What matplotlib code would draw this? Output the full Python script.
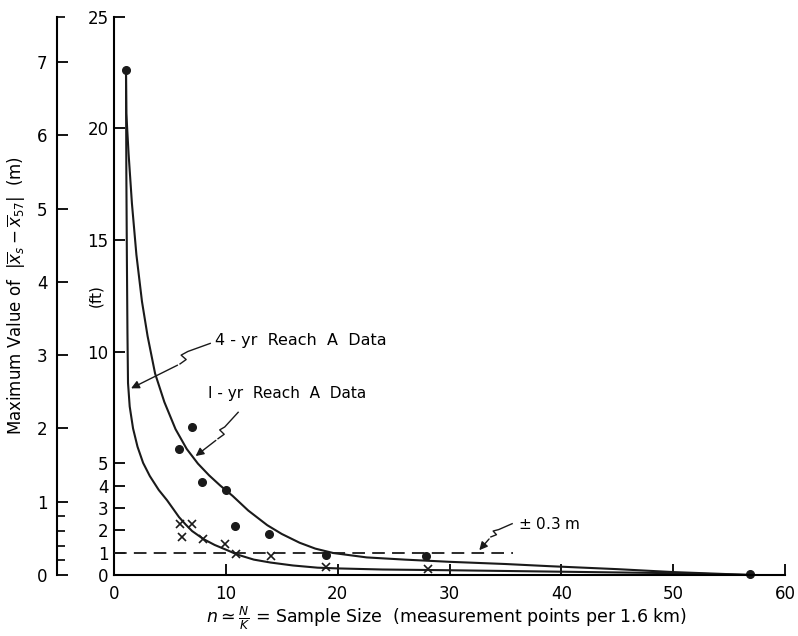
import numpy as np
import matplotlib.pyplot as plt
from matplotlib.ticker import FixedLocator

FT = 0.3048  # metres per foot

# 1-yr Reach A data (dots) and 4-yr Reach A data (crosses), values in metres
dots_n = [1.07, 5.84, 6.95, 7.87, 10.0, 10.8, 13.9, 18.96, 27.9, 56.9]
dots_m = [6.89, 1.72, 2.02, 1.27, 1.16, 0.67, 0.56, 0.27, 0.26, 0.02]

cross_n = [5.9, 6.06, 7.0, 8.0, 9.95, 10.9, 14.0, 18.96, 28.1]
cross_m = [0.69, 0.52, 0.69, 0.49, 0.42, 0.29, 0.26, 0.11, 0.08]

# hand-fitted curves
curve4_n = [1.07, 1.1, 1.15, 1.2, 1.25, 1.4, 1.7, 2.1, 2.6, 3.2, 4.0, 4.74, 5.3,
            5.81, 6.4, 6.98, 8.0, 9.0, 10.1, 11.0, 12.5, 14, 16, 18.2, 20, 24,
            30, 40, 50, 57]
curve4_m = [6.89, 5.5, 4.3, 3.3, 2.62, 2.3, 2.0, 1.75, 1.53, 1.35, 1.16, 1.02, 0.9,
            0.79, 0.69, 0.60, 0.49, 0.41, 0.34, 0.28, 0.21, 0.17, 0.13, 0.10, 0.09,
            0.075, 0.065, 0.045, 0.025, 0.0]

curve1_n = [1.07, 1.1, 1.3, 1.6, 2.0, 2.5, 3.0, 3.67, 4.5, 5.5, 6.5, 7.5, 8.5, 9.5,
            10.6, 12.0, 13.7, 15.0, 16.6, 18.0, 19.6, 22.6, 26, 30, 35, 39, 45,
            50, 57]
curve1_m = [6.89, 6.3, 5.75, 5.07, 4.37, 3.73, 3.26, 2.75, 2.36, 1.99, 1.72, 1.52,
            1.36, 1.22, 1.08, 0.88, 0.68, 0.56, 0.44, 0.36, 0.30, 0.24, 0.21, 0.18,
            0.15, 0.12, 0.08, 0.04, 0.0]

tol_m = 0.3
tol_end = 35.7

m_ticks = [0, 1, 2, 3, 4, 5, 6, 7]
m_minor = [0.2, 0.4, 0.6, 0.8, 25 * FT]
ft_ticks = [0, 1, 2, 3, 4, 5, 10, 15, 20, 25]
x_ticks = [0, 10, 20, 30, 40, 50, 60]

plt.rcParams['font.family'] = 'DejaVu Sans'

fig = plt.figure(figsize=(7.98, 6.36), dpi=100)
ax = fig.add_axes([0.1429, 0.0959, 0.8408, 0.8781])

k = '#1a1a1a'
ax.plot(curve4_n, curve4_m, color=k, lw=1.5)
ax.plot(curve1_n, curve1_m, color=k, lw=1.5)
ax.plot(dots_n, dots_m, 'o', color=k, ms=5.5, clip_on=False)
ax.plot(cross_n, cross_m, 'x', color=k, ms=5.5, mew=1.2)
ax.plot([0, tol_end], [tol_m, tol_m], color=k, lw=1.3, dashes=(7, 4))

ax.set_xlim(0, 60)
ax.set_ylim(0, 25 * FT)

# outer metre axis
for s in ['top', 'right']:
    ax.spines[s].set_visible(False)
ax.spines['left'].set_position(('outward', 41))
ax.spines['left'].set_linewidth(1.5)
ax.spines['bottom'].set_linewidth(1.5)
ax.yaxis.set_major_locator(FixedLocator(m_ticks))
ax.yaxis.set_minor_locator(FixedLocator(m_minor))
ax.tick_params(axis='y', which='major', direction='in', length=8, width=1.3,
               labelsize=12, pad=7)
ax.tick_params(axis='y', which='minor', direction='in', length=6, width=1.2)
ax.set_xticks(x_ticks)
ax.tick_params(axis='x', direction='in', length=8, width=1.3, labelsize=12, pad=7)

ax.set_ylabel(r'Maximum Value of  $|\overline{x}_s - \overline{x}_{57}|$  (m)',
              fontsize=12)
ax.yaxis.set_label_coords(-0.128, 0.5)
ax.set_xlabel(r'$n \simeq \frac{N}{K}$ = Sample Size  (measurement points per 1.6 km)',
              fontsize=12.5, va='center')
ax.xaxis.set_label_coords(0.495, -0.078)

# inner feet axis
sec = ax.secondary_yaxis('left', functions=(lambda m: m / FT, lambda f: f * FT))
sec.set_yticks(ft_ticks)
sec.spines['left'].set_linewidth(1.5)
sec.tick_params(direction='in', length=8, width=1.3, labelsize=12, pad=4)
ax.text(-0.027, 0.5, '(ft)', rotation=90, fontsize=11, ha='center', va='center',
        transform=ax.transAxes)

# annotations with wavy leaders
ax.text(9.0, 3.2, '4 - yr  Reach  A  Data', fontsize=11.5, va='center')
ax.plot([8.6, 6.6, 6.0, 6.45, 5.9], [3.16, 3.05, 3.0, 2.94, 2.88], color=k, lw=1)
ax.annotate('', xy=(1.3, 2.53), xytext=(5.9, 2.88),
            arrowprops=dict(arrowstyle='-|>', color=k, lw=1, mutation_scale=12))

ax.text(8.4, 2.48, 'I - yr  Reach  A  Data', fontsize=11, va='center')
ax.plot([11.1, 9.9, 9.45, 9.85, 9.3], [2.22, 2.02, 1.98, 1.92, 1.86], color=k, lw=1)
ax.annotate('', xy=(7.1, 1.6), xytext=(9.3, 1.86),
            arrowprops=dict(arrowstyle='-|>', color=k, lw=1, mutation_scale=12))

ax.text(36.1, 0.70, r'$\pm$ 0.3 m', fontsize=11, va='center')
ax.plot([35.6, 34.4, 33.9, 34.2, 33.7], [0.70, 0.62, 0.60, 0.55, 0.52], color=k, lw=1)
ax.annotate('', xy=(32.5, 0.31), xytext=(33.7, 0.52),
            arrowprops=dict(arrowstyle='-|>', color=k, lw=1, mutation_scale=12))

fig.savefig('out.png', dpi=100)
